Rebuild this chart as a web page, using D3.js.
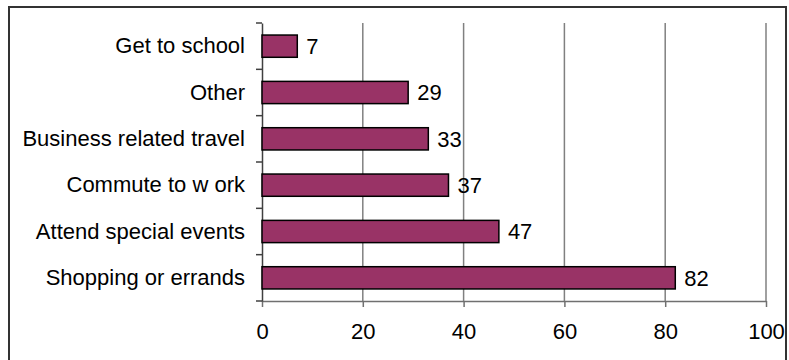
<!DOCTYPE html>
<html>
<head>
<meta charset="utf-8">
<script src="https://cdn.jsdelivr.net/npm/d3@7"></script>
<style>
  body { margin: 0; background: #fff; }
  svg text { font-family: "Liberation Sans", Arial, sans-serif; font-size: 22px; fill: #000; }
</style>
</head>
<body>
<svg width="789" height="360"></svg>
<script>
var categories = ["Get to school", "Other", "Business related travel", "Commute to w ork", "Attend special events", "Shopping or errands"];
var values = [7, 29, 33, 37, 47, 82];
var xTicks = [0, 20, 40, 60, 80, 100];

var svg = d3.select("svg"),
    margin = {top: 23, right: 23, bottom: 59, left: 262},
    width = +svg.attr("width") - margin.left - margin.right,
    height = +svg.attr("height") - margin.top - margin.bottom;

// outer chart frame
svg.append("rect")
    .attr("x", 9).attr("y", 7)
    .attr("width", 777).attr("height", 360)
    .style("fill", "none")
    .style("stroke", "#333")
    .style("stroke-width", 2);

var x = d3.scaleLinear().domain([0, 100]).range([0, width]),
    y = d3.scaleBand().domain(categories).range([0, height]).paddingInner(0.52).paddingOuter(0.26);

var g = svg.append("g")
    .attr("transform", "translate(" + margin.left + "," + margin.top + ")");

// gridlines
g.selectAll(".grid")
  .data(xTicks.slice(1))
  .enter().append("line")
    .attr("class", "grid")
    .attr("x1", function(d) { return x(d); })
    .attr("x2", function(d) { return x(d); })
    .attr("y1", 0)
    .attr("y2", height)
    .style("stroke", "#808080")
    .style("stroke-width", 1.5);

// x axis
var xAxis = g.append("g")
    .attr("transform", "translate(0," + height + ")")
    .call(d3.axisBottom(x).tickValues(xTicks).tickSize(6).tickSizeOuter(0).tickPadding(16));
xAxis.select(".domain").style("stroke", "#707070").style("stroke-width", 1.5);
xAxis.selectAll(".tick line").style("stroke", "#707070").style("stroke-width", 1.5);
xAxis.selectAll("text").style("font-size", "22px").style("font-family", "'Liberation Sans', Arial, sans-serif");

// y axis: labels at band centres, ticks at band edges
var yAxis = g.append("g")
    .call(d3.axisLeft(y).tickSize(0).tickPadding(17));
yAxis.select(".domain").style("stroke", "#404040").style("stroke-width", 1.5);
yAxis.selectAll("text").style("font-size", "22px").style("font-family", "'Liberation Sans', Arial, sans-serif");

var edges = categories.map(function(d) { return y(d) - y.step() * y.paddingInner() / 2; });
edges.push(height);
g.selectAll(".ytick")
  .data(edges)
  .enter().append("line")
    .attr("class", "ytick")
    .attr("x1", -6).attr("x2", 0)
    .attr("y1", function(d) { return d; })
    .attr("y2", function(d) { return d; })
    .style("stroke", "#404040")
    .style("stroke-width", 1.5);

// bars
g.selectAll(".bar")
  .data(values)
  .enter().append("rect")
    .attr("class", "bar")
    .attr("x", x(0))
    .attr("y", function(d, i) { return y(categories[i]); })
    .attr("width", function(d) { return x(d) - x(0); })
    .attr("height", y.bandwidth())
    .style("fill", "#993366")
    .style("stroke", "#000")
    .style("stroke-width", 1.5);

// value labels
g.selectAll(".value")
  .data(values)
  .enter().append("text")
    .attr("class", "value")
    .attr("x", function(d) { return x(d) + 9; })
    .attr("y", function(d, i) { return y(categories[i]) + y.bandwidth() / 2; })
    .attr("dy", "0.36em")
    .text(function(d) { return d; });
</script>
</body>
</html>
